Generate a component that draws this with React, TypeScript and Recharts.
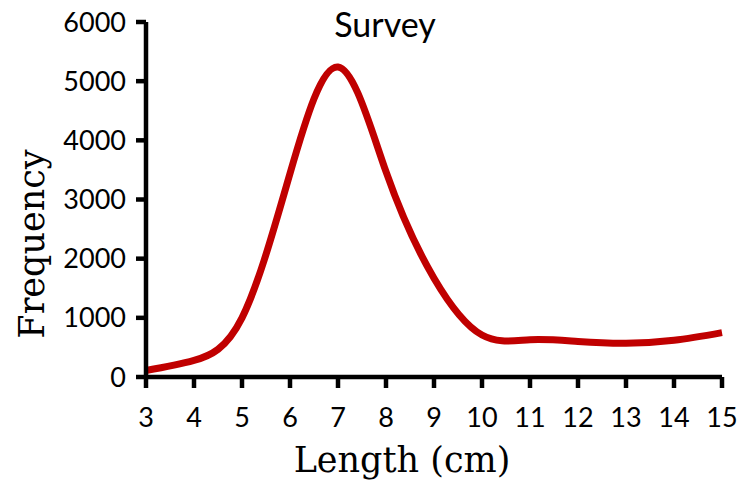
import React from 'react';
import { LineChart, Line, XAxis, YAxis } from 'recharts';

const lengths = [3, 4, 5, 6, 7, 8, 9, 10, 11, 12, 13, 14, 15];
const frequency = [110, 280, 1000, 3440, 5240, 3470, 1670, 710, 630, 600, 570, 620, 750];
const xTicks = [3, 4, 5, 6, 7, 8, 9, 10, 11, 12, 13, 14, 15];
const yTicks = [0, 1000, 2000, 3000, 4000, 5000, 6000];

const data = lengths.map((l, i) => ({ length: l, freq: frequency[i] }));

const tickFont = { fontFamily: 'Lato, "Open Sans", sans-serif', fontSize: 27, fill: '#000' };

export default function App() {
  return (
    <div style={{ position: 'absolute', left: 0, top: 0, width: 740, height: 484, background: '#fff' }}>
      <LineChart width={740} height={484} data={data} margin={{ top: 22, right: 18, bottom: 47, left: 0 }}>
        <XAxis
          dataKey="length"
          type="number"
          domain={[3, 15]}
          ticks={xTicks}
          interval={0}
          axisLine={{ stroke: '#000', strokeWidth: 4.5 }}
          tickLine={{ stroke: '#000', strokeWidth: 4.5 }}
          tickSize={11}
          tickMargin={20}
          height={60}
          tick={tickFont}
        />
        <YAxis
          type="number"
          domain={[0, 6000]}
          ticks={yTicks}
          interval={0}
          width={146}
          axisLine={{ stroke: '#000', strokeWidth: 4.5 }}
          tickLine={{ stroke: '#000', strokeWidth: 4.5 }}
          tickSize={10}
          tickMargin={10}
          tick={tickFont}
        />
        <Line
          type="natural"
          dataKey="freq"
          stroke="#C00000"
          strokeWidth={7}
          dot={false}
          isAnimationActive={false}
        />
      </LineChart>
      <svg width={740} height={484} style={{ position: 'absolute', left: 0, top: 0, pointerEvents: 'none' }}>
        <text x={385} y={37} textAnchor="middle" style={{ fontFamily: 'Lato, "Open Sans", sans-serif', fontSize: 34 }} fill="#000">Survey</text>
        <text x={402} y={472} textAnchor="middle" style={{ fontFamily: '"DejaVu Serif", serif', fontSize: 35 }} fill="#000">Length (cm)</text>
        <text x={44} y={244} textAnchor="middle" transform="rotate(-90 44 244)" style={{ fontFamily: '"DejaVu Serif", serif', fontSize: 35 }} fill="#000">Frequency</text>
      </svg>
    </div>
  );
}
